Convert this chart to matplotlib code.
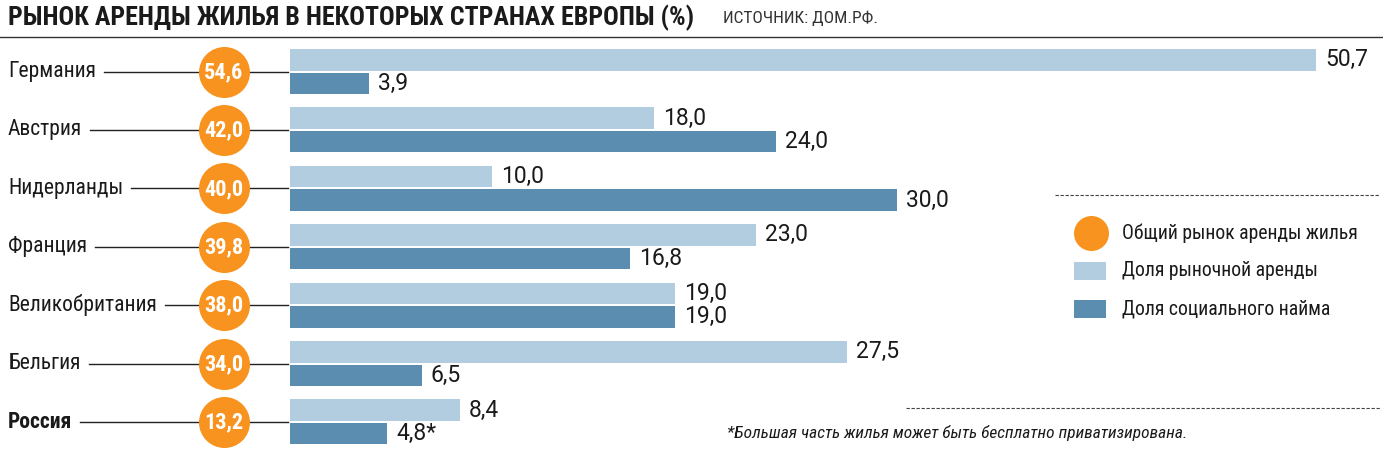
import matplotlib
matplotlib.use("Agg")
import matplotlib.pyplot as plt
from matplotlib import font_manager as fm

# ---- data ----
countries = ["Германия", "Австрия", "Нидерланды", "Франция", "Великобритания", "Бельгия", "Россия"]
total_rent = [54.6, 42.0, 40.0, 39.8, 38.0, 34.0, 13.2]
market_rent = [50.7, 18.0, 10.0, 23.0, 19.0, 27.5, 8.4]
social_rent = [3.9, 24.0, 30.0, 16.8, 19.0, 6.5, 4.8]
social_suffix = ["", "", "", "", "", "", "*"]
legend_labels = ["Общий рынок аренды жилья", "Доля рыночной аренды", "Доля социального найма"]
title = "РЫНОК АРЕНДЫ ЖИЛЬЯ В НЕКОТОРЫХ СТРАНАХ ЕВРОПЫ (%)"
source = "ИСТОЧНИК: ДОМ.РФ."
footnote = "*Большая часть жилья может быть бесплатно приватизирована."

# ---- fonts ----
avail = {f.name for f in fm.fontManager.ttflist}
cands = ["Roboto Condensed", "Liberation Sans Narrow", "Open Sans Condensed", "Roboto", "DejaVu Sans"]
font = next(c for c in cands if c in avail)
narrow = font in ("Roboto Condensed", "Liberation Sans Narrow", "Open Sans Condensed")
vfont = "Roboto" if "Roboto" in avail else font
plt.rcParams['font.family'] = [font, 'DejaVu Sans']

ORANGE = "#F7931E"
LIGHT = "#B3CDE0"
DARK = "#5B8DB1"
TXT = "#1a1a1a"

W, H = 1383, 462
fig = plt.figure(figsize=(W / 100, H / 100), dpi=100)
ax = fig.add_axes([0, 0, 1, 1])

# pixel mapping: x=0 at px 290, 20.24 px per unit; row i at px 71.5 + 58.4*i
x0px, xs = 290.0, 20.24
y0px, ys = 71.5, 58.4
ax.set_xlim(-x0px / xs, (W - x0px) / xs)
ax.set_ylim((H - y0px) / ys, -y0px / ys)
ax.axis("off")

def px2x(p):
    return (p - x0px) / xs

def py2y(p):
    return (p - y0px) / ys

n = len(countries)
off = 11.75 / ys
bh = 21.5 / ys
idx = list(range(n))

vsize = 16.5
lsize = 15.5 if narrow else 14.5

ax.barh([i - off for i in idx], market_rent, height=bh, color=LIGHT, zorder=2)
ax.barh([i + off for i in idx], social_rent, height=bh, color=DARK, zorder=2)

for i in idx:
    ax.annotate(f"{market_rent[i]:.1f}".replace(".", ","), (market_rent[i], i - off),
                xytext=(6.5, 0), textcoords="offset points", va="center", ha="left",
                fontsize=vsize, color=TXT, family=[vfont, "DejaVu Sans"])
    ax.annotate(f"{social_rent[i]:.1f}".replace(".", ",") + social_suffix[i], (social_rent[i], i + off),
                xytext=(6.5, 0), textcoords="offset points", va="center", ha="left",
                fontsize=vsize, color=TXT, family=[vfont, "DejaVu Sans"])
    bold = countries[i] == "Россия"
    t = ax.text(px2x(8), i, countries[i], va="center", ha="left", fontsize=lsize,
                color=TXT, fontweight="bold" if bold else "normal")
    fig.canvas.draw()
    bb = t.get_window_extent()
    lx = px2x(bb.x1 + 8)
    ax.plot([lx, px2x(288)], [i, i], color="#222222", lw=1.0, zorder=1)

ax.scatter([px2x(223.5)] * n, idx, s=(51 * 0.72) ** 2, color=ORANGE, zorder=3, linewidths=0)
for i in idx:
    ax.text(px2x(223.5), i + 0.01, f"{total_rent[i]:.1f}".replace(".", ","), ha="center", va="center",
            fontsize=16 if narrow else 13.5, fontweight="bold", color="white", zorder=4)

# ---- legend ----
ax.plot([px2x(1055), px2x(1380)], [py2y(195)] * 2, color="#444444", lw=0.8, ls=(0, (3, 1.5)))
ax.plot([px2x(906), px2x(1380)], [py2y(408)] * 2, color="#444444", lw=0.8, ls=(0, (3, 1.5)))
ax.scatter([px2x(1091)], [py2y(233)], s=(35 * 0.72) ** 2, color=ORANGE, linewidths=0, zorder=3)
ax.barh([py2y(271)], [px2x(1106) - px2x(1074)], left=px2x(1074), height=18 / ys, color=LIGHT)
ax.barh([py2y(309)], [px2x(1106) - px2x(1074)], left=px2x(1074), height=18 / ys, color=DARK)
for lab, yp in zip(legend_labels, [233, 271, 309]):
    ax.text(px2x(1122), py2y(yp), lab, va="center", ha="left", fontsize=14.2 if narrow else 12, color=TXT)

ax.text(px2x(727), py2y(433), footnote, va="center", ha="left", fontsize=12.5 if narrow else 11,
        style="italic", color=TXT)

# ---- header ----
fig.text(8 / W, 1 - 18 / H, title, ha="left", va="center", fontsize=18.7 if narrow else 16,
         fontweight="bold", color=TXT)
fig.text(723 / W, 1 - 18 / H, source, ha="left", va="center", fontsize=12.5 if narrow else 11, color="#333333")
ax.plot([px2x(0), px2x(W)], [py2y(37)] * 2, color="#333333", lw=1.0)

fig.savefig("out.png", dpi=100)
